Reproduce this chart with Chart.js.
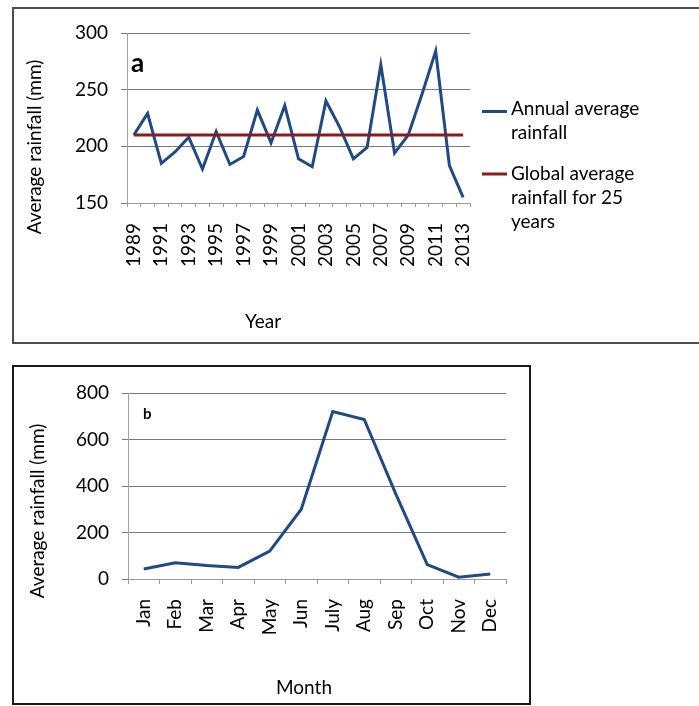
<!DOCTYPE html>
<html><head><meta charset="utf-8">
<script src="https://cdn.jsdelivr.net/npm/chart.js@4/dist/chart.umd.min.js"></script>
<style>
html,body{margin:0;padding:0;background:#fff;width:699px;height:706px;overflow:hidden;position:relative;}
.box{position:absolute;box-sizing:border-box;}
#boxA{left:12px;top:7px;width:720px;height:337px;border:2px solid #4d4d4d;}
#boxB{left:12px;top:365px;width:519px;height:340px;border:2px solid #1a1a1a;}
canvas{position:absolute;left:0;}
#cA{top:0;}
#cB{top:355px;}
</style></head><body>
<div class="box" id="boxA"></div>
<div class="box" id="boxB"></div>
<canvas id="cA" width="699" height="350"></canvas>
<canvas id="cB" width="699" height="351"></canvas>
<script>
// ---- data (panel a) ----
const years = ['1989','1990','1991','1992','1993','1994','1995','1996','1997','1998','1999','2000','2001','2002','2003','2004','2005','2006','2007','2008','2009','2010','2011','2012','2013'];
const annualRainfall = [210,229,185,195,208,180,213,184,191,232,203,236,189,182,240,217,189,199,272,194,210,246,284,183,155];
const globalAverage = [210,210,210,210,210,210,210,210,210,210,210,210,210,210,210,210,210,210,210,210,210,210,210,210,210];
const yTicksA = [150,200,250,300];
// ---- data (panel b) ----
const months = ['Jan','Feb','Mar','Apr','May','Jun','July','Aug','Sep','Oct','Nov','Dec'];
const monthlyRainfall = [43,70,58,50,120,300,720,686,366,62,8,21];
const yTicksB = [0,200,400,600,800];

const BLUE = '#1f4a87';
const RED = '#8e1b1b';
const FONT = 'Lato, "Open Sans", sans-serif';
Chart.defaults.font.family = FONT;
Chart.defaults.color = '#000';

const textPlugin = {
  id: 'extraText',
  afterDraw(chart, args, opts) {
    const ctx = chart.ctx;
    (opts.items || []).forEach(it => {
      ctx.save();
      if (it.line) {
        ctx.strokeStyle = chart.data.datasets[it.dataset].borderColor;
        ctx.lineWidth = it.width;
        ctx.beginPath(); ctx.moveTo(it.x1, it.y); ctx.lineTo(it.x2, it.y); ctx.stroke();
      } else {
        ctx.font = it.font;
        ctx.fillStyle = '#000';
        ctx.textAlign = it.align || 'left';
        ctx.textBaseline = it.baseline || 'alphabetic';
        ctx.translate(it.x, it.y);
        if (it.rot) ctx.rotate(it.rot);
        ctx.fillText(it.text, 0, 0);
      }
      ctx.restore();
    });
  }
};

const F19 = '19px ' + FONT;

new Chart(document.getElementById('cA'), {
  type: 'line',
  data: {
    labels: years,
    datasets: [
      {label: 'Annual average rainfall', data: annualRainfall, borderColor: BLUE, borderWidth: 3, pointRadius: 0, tension: 0, fill: false, order: 2},
      {label: 'Global average rainfall for 25 years', data: globalAverage, borderColor: RED, borderWidth: 3, pointRadius: 0, tension: 0, fill: false, order: 1}
    ]
  },
  options: {
    responsive: false, animation: false, devicePixelRatio: 1,
    layout: {padding: {left: 0, top: 33, right: 229, bottom: 0}},
    plugins: {
      legend: {display: false}, tooltip: {enabled: false},
      extraText: {items: [
        {text: 'a', x: 131, y: 71.5, font: 'bold 26px ' + FONT},
        {text: 'Average rainfall (mm)', x: 35, y: 147, rot: -Math.PI/2, align: 'center', baseline: 'middle', font: F19},
        {text: 'Year', x: 263, y: 322, align: 'center', baseline: 'middle', font: F19},
        {line: true, dataset: 0, x1: 482, x2: 507, y: 111.5, width: 3},
        {text: 'Annual average', x: 511, y: 115, font: F19},
        {text: 'rainfall', x: 511, y: 138.5, font: F19},
        {line: true, dataset: 1, x1: 482, x2: 507, y: 174, width: 3},
        {text: 'Global average', x: 511, y: 180, font: F19},
        {text: 'rainfall for 25', x: 511, y: 204, font: F19},
        {text: 'years', x: 511, y: 228, font: F19}
      ]}
    },
    scales: {
      x: {
        type: 'category', offset: true,
        grid: {offset: true, drawOnChartArea: false, drawTicks: true, tickLength: 4, color: '#9a9a9a'},
        border: {color: '#9a9a9a'},
        ticks: {autoSkip: false, minRotation: 90, maxRotation: 90, padding: 16, font: {size: 19},
          callback: (v, i) => (i % 2 === 0 ? years[i] : '')},
        afterFit: s => { s.height = 147; }
      },
      y: {
        min: yTicksA[0], max: yTicksA[yTicksA.length - 1],
        ticks: {stepSize: 50, padding: 13, font: {size: 19}},
        grid: {color: '#7a7a7a', tickLength: 6},
        border: {color: '#a0a0a0'},
        afterFit: s => { s.width = 127; }
      }
    }
  },
  plugins: [textPlugin]
});

new Chart(document.getElementById('cB'), {
  type: 'line',
  data: {
    labels: months,
    datasets: [
      {label: 'Average rainfall', data: monthlyRainfall, borderColor: BLUE, borderWidth: 3, pointRadius: 0, tension: 0, fill: false}
    ]
  },
  options: {
    responsive: false, animation: false, devicePixelRatio: 1,
    layout: {padding: {left: 0, top: 38, right: 193, bottom: 0}},
    plugins: {
      legend: {display: false}, tooltip: {enabled: false},
      extraText: {items: [
        {text: 'b', x: 143, y: 63.5, font: 'bold 15px ' + FONT},
        {text: 'Average rainfall (mm)', x: 38, y: 156, rot: -Math.PI/2, align: 'center', baseline: 'middle', font: F19},
        {text: 'Month', x: 304, y: 333, align: 'center', baseline: 'middle', font: F19}
      ]}
    },
    scales: {
      x: {
        type: 'category', offset: true,
        grid: {offset: true, drawOnChartArea: false, drawTicks: true, tickLength: 5, color: '#9a9a9a'},
        border: {color: '#9a9a9a'},
        ticks: {autoSkip: false, minRotation: 90, maxRotation: 90, padding: 15, font: {size: 19}},
        afterFit: s => { s.height = 127; }
      },
      y: {
        min: yTicksB[0], max: yTicksB[yTicksB.length - 1],
        ticks: {stepSize: 200, padding: 13, font: {size: 19}},
        grid: {color: '#7a7a7a', tickLength: 6},
        border: {color: '#a0a0a0'},
        afterFit: s => { s.width = 128; }
      }
    }
  },
  plugins: [textPlugin]
});
</script>
</body></html>
